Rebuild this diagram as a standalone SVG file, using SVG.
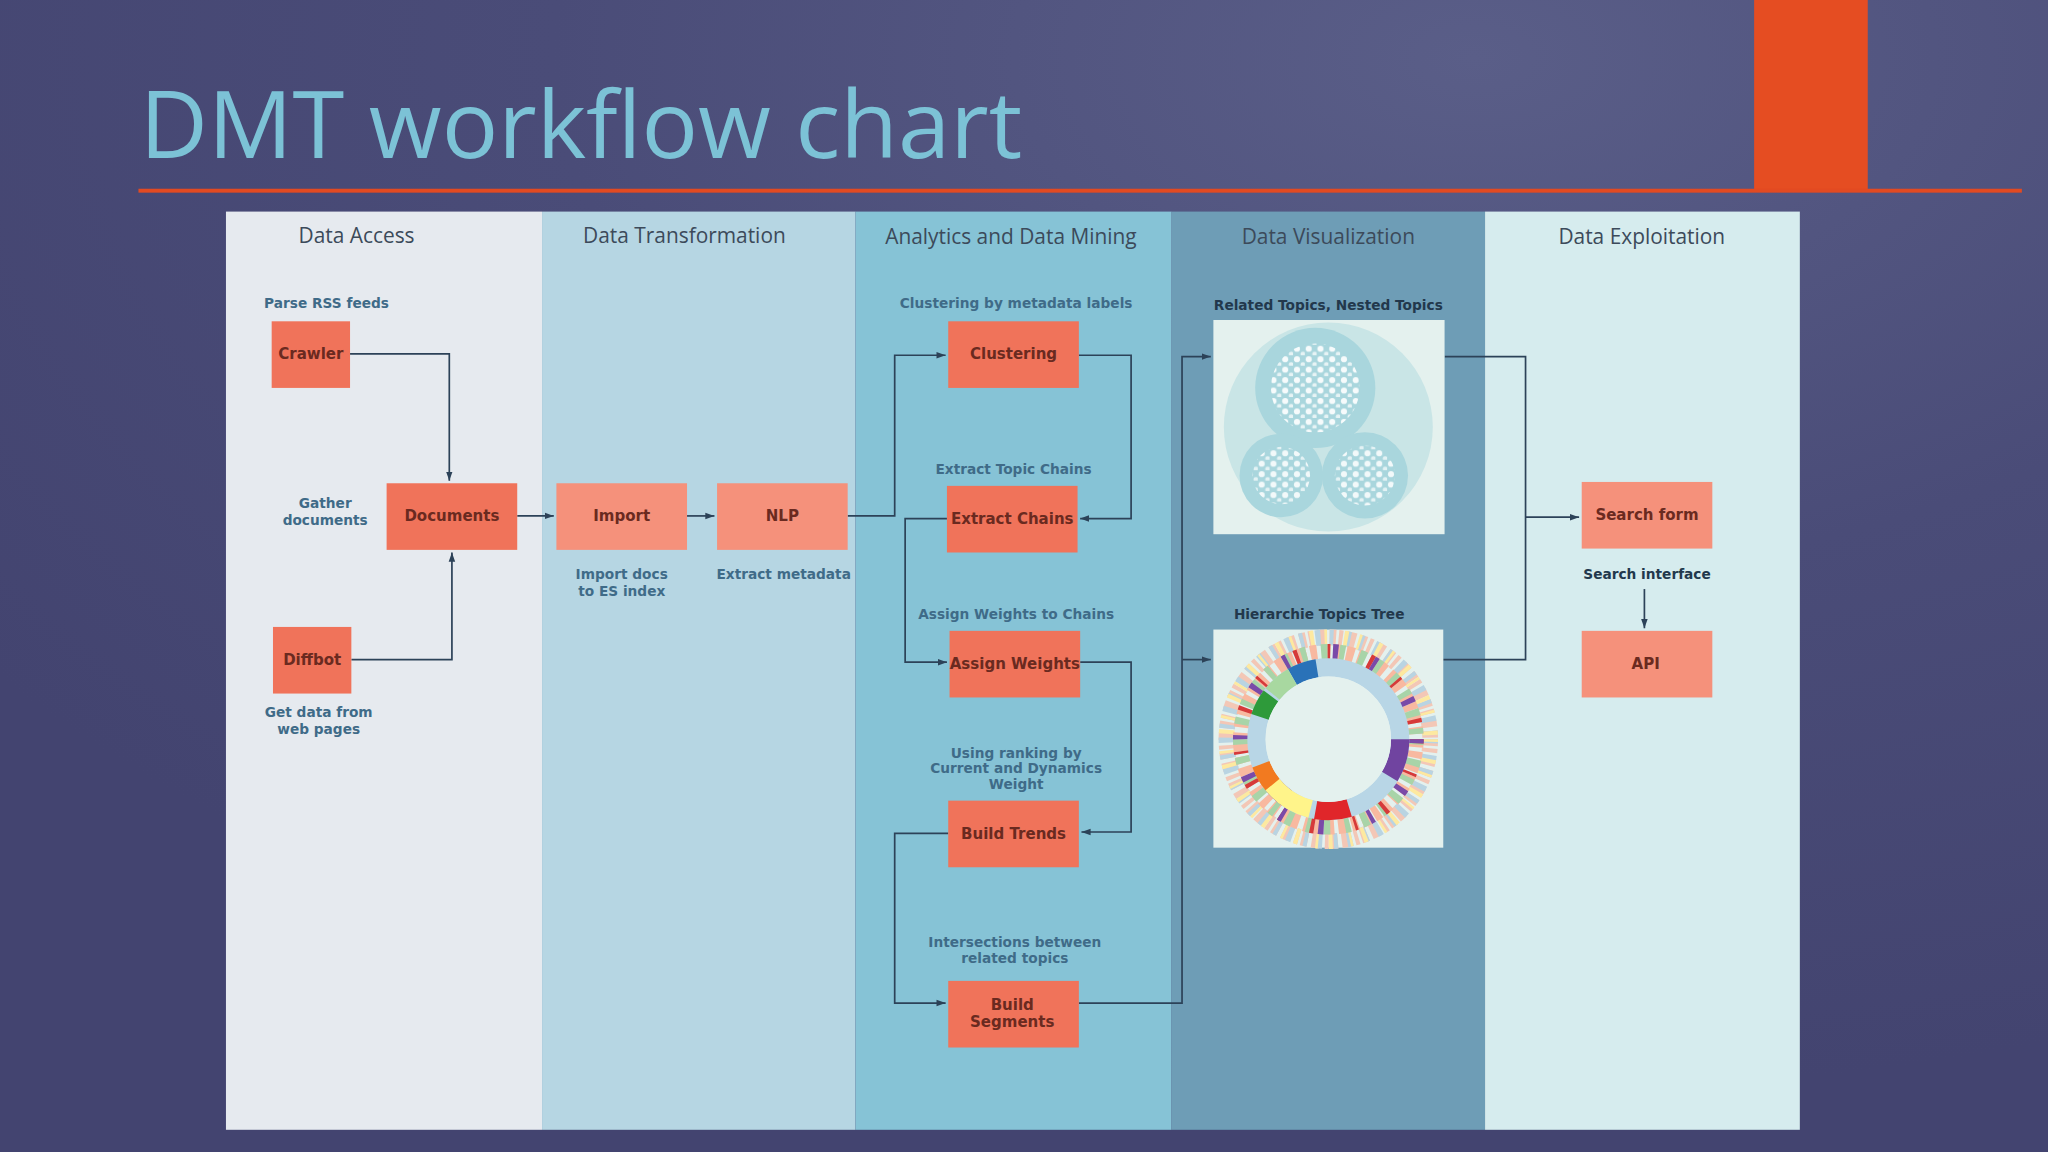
<svg xmlns="http://www.w3.org/2000/svg" width="2048" height="1152" viewBox="0 0 2048 1152">
<defs>
<radialGradient id="bg" cx="0.72" cy="0.05" r="0.9">
<stop offset="0" stop-color="#5a5e88"/><stop offset="0.5" stop-color="#4a4c78"/><stop offset="1" stop-color="#434470"/>
</radialGradient>
<pattern id="dots" width="9" height="8" patternUnits="userSpaceOnUse">
<circle cx="3" cy="3" r="2.3" fill="#fff"/><circle cx="7.5" cy="7" r="1.8" fill="#fff" opacity="0.8"/>
</pattern>
<marker id="ar" markerWidth="8" markerHeight="8" refX="7" refY="4" orient="auto" markerUnits="userSpaceOnUse">
<path d="M0,1.5 L7,4 L0,6.5 z" fill="#2c4258"/>
</marker>
<style>
.lt{font-family:"Open Sans","Liberation Sans",sans-serif;font-size:16px;fill:#3c4a5a;text-anchor:middle}
.nd{fill:#f0735a}
.nl{fill:#f5917b}
.nt{font-family:"DejaVu Sans","Liberation Sans",sans-serif;font-weight:bold;font-size:11.5px;fill:#6a2a20;text-anchor:middle}
.lb{font-family:"DejaVu Sans","Liberation Sans",sans-serif;font-weight:bold;font-size:10.5px;fill:#3f6b88;text-anchor:middle}
.lb2{font-family:"DejaVu Sans","Liberation Sans",sans-serif;font-weight:bold;font-size:10.5px;fill:#22384c;text-anchor:middle}
.cn{fill:none;stroke:#2c4258;stroke-width:1.3}
.ring{fill:none}
</style>
</defs>
<rect width="2048" height="1152" fill="url(#bg)"/>
<g transform="scale(1.30612)">
<text x="107" y="121" font-family="'Open Sans','Liberation Sans',sans-serif" font-size="72" fill="#7cc2d6">DMT workflow chart</text>
<rect x="1343" y="0" width="87" height="146" fill="#e54d22"/>
<rect x="106" y="144.5" width="1442" height="3" fill="#e24a22"/>
<g id="lanes">
<rect x="173" y="162" width="242" height="703" fill="#e6eaef"/>
<rect x="415" y="162" width="240" height="703" fill="#b6d6e3"/>
<rect x="655" y="162" width="242" height="703" fill="#86c3d6"/>
<rect x="897" y="162" width="240" height="703" fill="#6e9db6"/>
<rect x="1137" y="162" width="241" height="703" fill="#d6ecee"/>
<text class="lt" x="273" y="186">Data Access</text>
<text class="lt" x="524" y="186">Data Transformation</text>
<text class="lt" x="774" y="187">Analytics and Data Mining</text>
<text class="lt" x="1017" y="187">Data Visualization</text>
<text class="lt" x="1257" y="187">Data Exploitation</text>
</g>
<g id="connectors">
<path class="cn" d="M268,271 H344 V368" marker-end="url(#ar)"/>
<path class="cn" d="M269,505 H346 V423" marker-end="url(#ar)"/>
<path class="cn" d="M396,395 H424" marker-end="url(#ar)"/>
<path class="cn" d="M526,395 H547" marker-end="url(#ar)"/>
<path class="cn" d="M649,395 H685 V272 H724" marker-end="url(#ar)"/>
<path class="cn" d="M826,272 H866 V397 H827" marker-end="url(#ar)"/>
<path class="cn" d="M725,397 H693 V507 H725" marker-end="url(#ar)"/>
<path class="cn" d="M827,507 H866 V637 H828" marker-end="url(#ar)"/>
<path class="cn" d="M726,638 H685 V768 H724" marker-end="url(#ar)"/>
<path class="cn" d="M826,768 H905 V273 H927" marker-end="url(#ar)"/>
<path class="cn" d="M905,505 H927" marker-end="url(#ar)"/>
<path class="cn" d="M1106,273 H1168 V505 H1105"/>
<path class="cn" d="M1168,396 H1209" marker-end="url(#ar)"/>
<path class="cn" d="M1259,451 V481" marker-end="url(#ar)"/>
</g>
<g id="crawler"><rect class="nd" x="208" y="246" width="60" height="51"/><text class="nt" x="238" y="275">Crawler</text><text class="lb" x="250" y="236">Parse RSS feeds</text></g>
<g id="documents"><rect class="nd" x="296" y="370" width="100" height="51"/><text class="nt" x="346" y="399">Documents</text><text class="lb" x="249" y="389">Gather</text><text class="lb" x="249" y="402">documents</text></g>
<g id="diffbot"><rect class="nd" x="209" y="480" width="60" height="51"/><text class="nt" x="239" y="509">Diffbot</text><text class="lb" x="244" y="549">Get data from</text><text class="lb" x="244" y="562">web pages</text></g>
<g id="import"><rect class="nl" x="426" y="370" width="100" height="51"/><text class="nt" x="476" y="399">Import</text><text class="lb" x="476" y="443">Import docs</text><text class="lb" x="476" y="456">to ES index</text></g>
<g id="nlp"><rect class="nl" x="549" y="370" width="100" height="51"/><text class="nt" x="599" y="399">NLP</text><text class="lb" x="600" y="443">Extract metadata</text></g>
<g id="clustering"><rect class="nd" x="726" y="246" width="100" height="51"/><text class="nt" x="776" y="275">Clustering</text><text class="lb" x="778" y="236">Clustering by metadata labels</text></g>
<g id="extract"><rect class="nd" x="725" y="372" width="100" height="51"/><text class="nt" x="775" y="401">Extract Chains</text><text class="lb" x="776" y="363">Extract Topic Chains</text></g>
<g id="assign"><rect class="nd" x="727" y="483" width="100" height="51"/><text class="nt" x="777" y="512">Assign Weights</text><text class="lb" x="778" y="474">Assign Weights to Chains</text></g>
<g id="trends"><rect class="nd" x="726" y="613" width="100" height="51"/><text class="nt" x="776" y="642">Build Trends</text><text class="lb" x="778" y="580">Using ranking by</text><text class="lb" x="778" y="592">Current and Dynamics</text><text class="lb" x="778" y="604">Weight</text></g>
<g id="segments"><rect class="nd" x="726" y="751" width="100" height="51"/><text class="nt" x="775" y="773">Build</text><text class="nt" x="775" y="786">Segments</text><text class="lb" x="777" y="725">Intersections between</text><text class="lb" x="777" y="737">related topics</text></g>
<g id="related">
<text class="lb2" x="1017" y="237">Related Topics, Nested Topics</text>
<rect x="929" y="245" width="177" height="164" fill="#e4f1ee"/>
<circle cx="1017" cy="327" r="80" fill="#c9e5e6"/>
<circle cx="1007" cy="297" r="46" fill="#a9d6dd"/>
<circle cx="981" cy="364" r="32" fill="#a9d6dd"/>
<circle cx="1045" cy="364" r="33" fill="#a9d6dd"/>
<circle cx="1007" cy="297" r="34" fill="url(#dots)" opacity="0.9"/>
<circle cx="981" cy="364" r="22" fill="url(#dots)" opacity="0.85"/>
<circle cx="1045" cy="364" r="23" fill="url(#dots)" opacity="0.85"/>
</g>
<g id="tree">
<text class="lb2" x="1010" y="474">Hierarchie Topics Tree</text>
<rect x="929" y="482" width="176" height="167" fill="#e4f1ee"/>
<circle class="ring" cx="1017" cy="566" r="78" stroke="#f3c7b6" stroke-width="12" stroke-dasharray="5 2 3 4 6 3"/>
<circle class="ring" cx="1017" cy="566" r="78" stroke="#b9d4e2" stroke-width="12" stroke-dasharray="3 9 4 7"/>
<circle class="ring" cx="1017" cy="566" r="78" stroke="#fde9a0" stroke-width="12" stroke-dasharray="2 13 3 8"/>
<circle class="ring" cx="1017" cy="566" r="66" stroke="#f8b9a0" stroke-width="14" stroke-dasharray="6 3 5 4"/>
<circle class="ring" cx="1017" cy="566" r="66" stroke="#a8d4a8" stroke-width="14" stroke-dasharray="4 11 5 9"/>
<circle class="ring" cx="1017" cy="566" r="66" stroke="#d63a3a" stroke-width="14" stroke-dasharray="3 22 2 30"/>
<circle class="ring" cx="1017" cy="566" r="66" stroke="#7a4aa8" stroke-width="14" stroke-dasharray="3 35 4 27"/>
<circle class="ring" cx="1017" cy="566" r="55" stroke="#b8d6e6" stroke-width="14"/>
<circle class="ring" cx="1017" cy="566" r="55" stroke="#7044a0" stroke-width="14" stroke-dasharray="30 90 16 210"/>
<circle class="ring" cx="1017" cy="566" r="55" stroke="#e0262a" stroke-width="14" stroke-dasharray="0 70 26 250"/>
<circle class="ring" cx="1017" cy="566" r="55" stroke="#fff48a" stroke-width="14" stroke-dasharray="0 100 40 206"/>
<circle class="ring" cx="1017" cy="566" r="55" stroke="#2e9a3a" stroke-width="14" stroke-dasharray="0 190 18 138"/>
<circle class="ring" cx="1017" cy="566" r="55" stroke="#2a72b8" stroke-width="14" stroke-dasharray="0 230 20 96"/>
<circle class="ring" cx="1017" cy="566" r="55" stroke="#f27a20" stroke-width="14" stroke-dasharray="0 135 18 193"/>
<circle class="ring" cx="1017" cy="566" r="55" stroke="#a8d8a0" stroke-width="14" stroke-dasharray="0 210 20 116"/>
<circle cx="1017" cy="566" r="48" fill="#e4f1ee"/>
</g>
<g id="search"><rect class="nl" x="1211" y="369" width="100" height="51"/><text class="nt" x="1261" y="398">Search form</text><text class="lb2" x="1261" y="443" fill="#2e4a60">Search interface</text></g>
<g id="api"><rect class="nl" x="1211" y="483" width="100" height="51"/><text class="nt" x="1260" y="512">API</text></g>
</g>
</svg>
